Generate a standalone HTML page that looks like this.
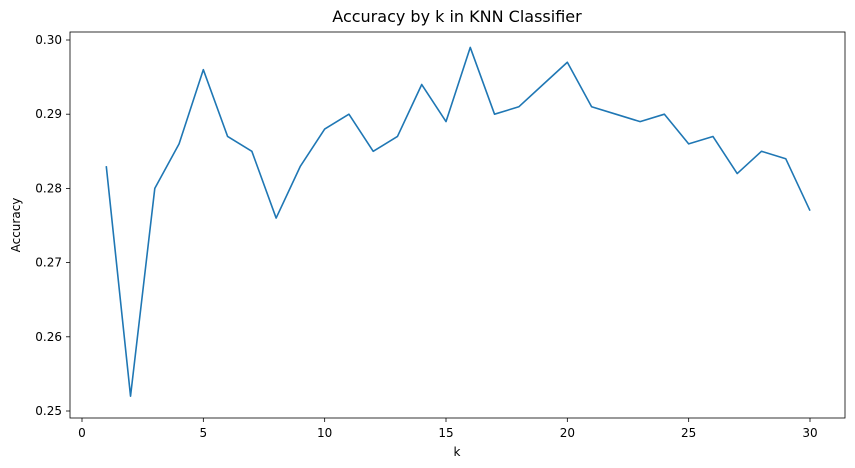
<!DOCTYPE html>
<html><head><meta charset="utf-8"><style>
body{margin:0;background:#fff;}
svg{display:block;font-family:"DejaVu Sans","Liberation Sans",sans-serif;}
</style></head><body>
<svg id="chart" width="855" height="468" viewBox="0 0 855 468">
<rect width="855" height="468" fill="#fff"/>
<text x="457" y="22" text-anchor="middle" font-size="16">Accuracy by k in KNN Classifier</text>
<g id="plot"></g>
<rect x="70" y="32" width="775" height="386" fill="none" stroke="#000" stroke-width="0.8"/>
<text x="457" y="456" text-anchor="middle" font-size="12">k</text>
<text x="20" y="225" text-anchor="middle" font-size="12" transform="rotate(-90 20 225)">Accuracy</text>
</svg>
<script>
const kValues=[1,2,3,4,5,6,7,8,9,10,11,12,13,14,15,16,17,18,19,20,21,22,23,24,25,26,27,28,29,30];
const accuracy=[0.283,0.252,0.280,0.286,0.296,0.287,0.285,0.276,0.283,0.288,0.290,0.285,0.287,0.294,0.289,0.299,0.290,0.291,0.294,0.297,0.291,0.290,0.289,0.290,0.286,0.287,0.282,0.285,0.284,0.277];
const xTicks=[0,5,10,15,20,25,30];
const yTicks=[0.25,0.26,0.27,0.28,0.29,0.30];
const yTickLabels=["0.25","0.26","0.27","0.28","0.29","0.30"];
const NS="http://www.w3.org/2000/svg";
function xs(v){return 82+v*(810-82)/30;}
function ys(v){return 411-(v-0.25)*(411-40)/0.05;}
const g=document.getElementById('plot');
function mk(t,a){const e=document.createElementNS(NS,t);for(const k in a)e.setAttribute(k,a[k]);g.appendChild(e);return e;}
xTicks.forEach(t=>{
  const l=mk('line',{x1:xs(t),x2:xs(t),y1:418,y2:422,stroke:'#000','stroke-width':0.8});
  
  
  const tx=mk('text',{x:xs(t),y:437,'text-anchor':'middle','font-size':12});
  tx.textContent=String(t);
  
  
});
yTicks.forEach((t,i)=>{
  const l=mk('line',{x1:66,x2:70,y1:ys(t),y2:ys(t),stroke:'#000','stroke-width':0.8});
  
  
  const tx=mk('text',{x:62,y:ys(t)+4,'text-anchor':'end','font-size':12});
  tx.textContent=yTickLabels[i];
  
  
});
const pts=kValues.map((k,i)=>xs(k)+','+ys(accuracy[i])).join(' ');
const pl=mk('polyline',{points:pts,fill:'none',stroke:'#1f77b4','stroke-width':1.6,'stroke-linejoin':'round'});


</script>
</body></html>
